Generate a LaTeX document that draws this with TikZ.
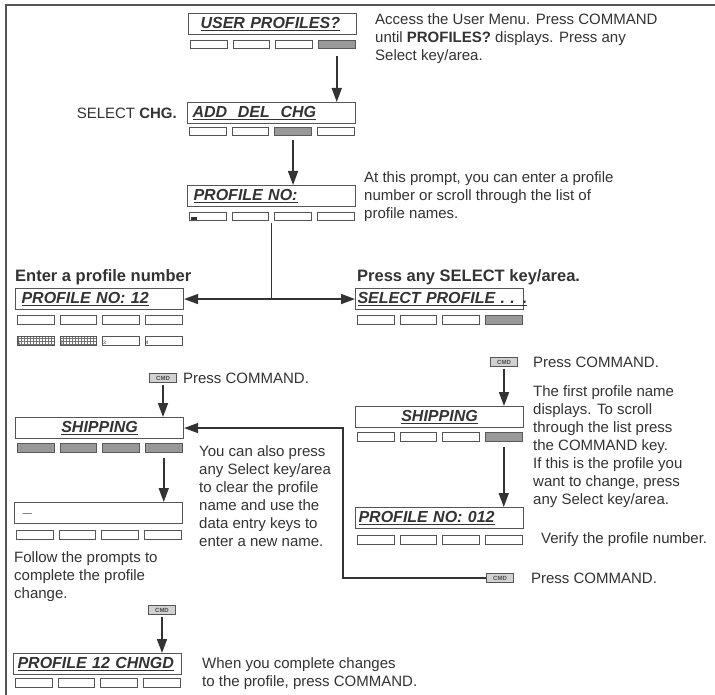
\documentclass[tikz,border=0pt]{standalone}
\usepackage{fontspec}
\setmainfont{Liberation Sans}
\usetikzlibrary{arrows.meta,patterns,calc}
\definecolor{ink}{HTML}{333333}
\definecolor{edge}{HTML}{555555}
\tikzset{
 disp/.style={draw=edge, line width=1.1pt, fill=white, minimum width=168pt, minimum height=21pt,
   text width=168pt, align=left, anchor=north west, inner sep=0pt, text=ink,
   font=\fontsize{16}{18}\selectfont\bfseries\itshape},
 key/.style={draw=edge, line width=1pt, fill=white, minimum width=36.5pt, minimum height=8.5pt,
   inner sep=0pt, anchor=north west},
 shaded/.style={fill=black!40, draw=black!65},
 numkey/.style={pattern=grid, pattern color=black!55},
 cmdkey/.style={draw=edge, line width=0.8pt, minimum width=27pt, minimum height=8.5pt, inner sep=0pt,
   fill=black!18, font=\fontsize{6}{6}\selectfont\bfseries, text=black!70},
 digit/.style={font=\fontsize{5}{5}\selectfont, text=ink, inner sep=0.5pt, anchor=south west},
 body/.style={font=\fontsize{15}{18}\selectfont, text=ink, inner sep=0pt, align=left, anchor=north west},
 head/.style={font=\fontsize{16.5}{18}\selectfont\bfseries, text=ink, inner sep=0pt, anchor=base west},
 arr/.style={draw=ink, line width=1.6pt, -{Triangle[length=14pt,width=10pt]}},
 thinline/.style={draw=ink, line width=1.1pt},
}
\newcommand\keysrow[7]{%
 \node[key,#4] (#1-1) at (#2+2,#3) {};
 \node[key,#5] (#1-2) at (#2+44.7,#3) {};
 \node[key,#6] (#1-3) at (#2+87.3,#3) {};
 \node[key,#7] (#1-4) at (#2+130,#3) {};
}
\begin{document}
\begin{tikzpicture}[x=1pt,y=-1pt]
\useasboundingbox (0,0) rectangle (715,695);
\fill[white] (0,0) rectangle (715,695);
% frame
\draw[edge, line width=1.5pt] (6,695) -- (6,5) -- (715,5);

% displays
\node[disp] (d1) at (188,13) {\hspace*{12pt}\underline{USER PROFILES?}};
\keysrow{d1k}{188}{40}{}{}{}{shaded}
\node[disp] (d2) at (187,102) {\hspace*{5pt}\underline{ADD\ \ DEL\ \ CHG}};
\keysrow{d2k}{187}{127}{}{}{shaded}{}
\node[disp] (d3) at (187,185) {\hspace*{6pt}\underline{PROFILE NO:}};
\keysrow{d3k}{187}{212}{}{}{}{}
\fill[ink] ([xshift=1.5pt,yshift=1.5pt]d3k-1.south west) rectangle ++(6,-3);
\node[disp] (d4) at (15,288) {\hspace*{6pt}\underline{PROFILE NO: 12}};
\keysrow{d4k}{15}{315}{}{}{}{}
\keysrow{d4r}{15}{336}{numkey}{numkey}{}{}
\node[digit] (n1) at (d4r-1.south west) {1};
\node[digit] (n2) at (d4r-2.south west) {2};
\node[digit] (n3) at (d4r-3.south west) {3};
\node[digit] (n4) at (d4r-4.south west) {4};
\node[disp] (d5) at (355,288) {\hspace*{2pt}\underline{SELECT PROFILE . . .}};
\keysrow{d5k}{355}{315}{}{}{}{shaded}
\node[disp, align=center] (d6) at (15,417) {\underline{SHIPPING}};
\keysrow{d6k}{15}{443}{shaded}{shaded}{shaded}{shaded}
\node[disp, align=center] (d7) at (355,406) {\underline{SHIPPING}};
\keysrow{d7k}{355}{432}{}{}{}{shaded}
\node[disp] (d8) at (14,502) {\hspace*{9pt}\_};
\keysrow{d8k}{14}{530}{}{}{}{}
\node[disp] (d9) at (355,507) {\hspace*{3pt}\underline{PROFILE NO: 012}};
\keysrow{d9k}{355}{535}{}{}{}{}
\node[disp] (d10) at (13,653) {\hspace*{4pt}\underline{PROFILE 12 CHNGD}};
\keysrow{d10k}{13}{678}{}{}{}{}

% command icons
\node[cmdkey] (cmd1) at (163,378) {CMD};
\node[cmdkey] (cmd2) at (162,610) {CMD};
\node[cmdkey] (cmd3) at (504,362) {CMD};
\node[cmdkey] (cmd4) at (500,578) {CMD};

% connectors
\draw[arr] ([yshift=-7pt]d1k-4.south) -- (d1k-4.south |- d2.north);
\draw[arr] ([yshift=-4pt]d2k-3.south) -- (d2k-3.south |- d3.north);
\coordinate (j) at (d3.south |- d4.east);
\draw[thinline] ([yshift=-16pt]d3.south) -- (j);
\draw[arr] (j) -- (d4.east);
\draw[arr] (j) -- (d5.west);
\draw[arr] ([yshift=-2pt]cmd1.south) -- (cmd1.south |- d6.north);
\draw[arr] ([yshift=-5pt]d6k-4.south) -- (d6k-4.south |- d8.north);
\draw[arr] ([yshift=-2pt]cmd2.south) -- (cmd2.south |- d10.north);
\draw[arr] ([yshift=-2pt]cmd3.south) -- (cmd3.south |- d7.north);
\draw[arr] ([yshift=-5pt]d7k-4.south) -- (d7k-4.south |- d9.north);
\coordinate (lp) at (343,578);
\draw[arr, line width=1.2pt] (cmd4.west) -- (lp) |- (d6.east);

% texts
\node[body] (t1) at (375,13) {Access the User Menu. Press COMMAND\\until \textbf{PROFILES?} displays. Press any\\Select key/area.};
\node[body, anchor=east] (t2) at ([xshift=-10pt]d2.west) {SELECT \textbf{CHG.}};
\node[body] (t3) at (364,171) {At this prompt, you can enter a profile\\number or scroll through the list of\\profile names.};
\node[head] (t4) at (15,281) {Enter a profile number};
\node[head] (t5) at (357,281) {Press any SELECT key/area.};
\node[body, anchor=west] (t6) at ([xshift=6pt]cmd1.east) {Press COMMAND.};
\node[body, anchor=west] (t7) at ([xshift=15pt]cmd3.east) {Press COMMAND.};
\node[body] (t8) at (533,385) {The first profile name\\displays. To scroll\\through the list press\\the COMMAND key.\\If this is the profile you\\want to change, press\\any Select key/area.};
\node[body] (t9) at (199,445) {You can also press\\any Select key/area\\to clear the profile\\name and use the\\data entry keys to\\enter a new name.};
\node[body, anchor=west] (t10) at (541,540) {Verify the profile number.};
\node[body, anchor=west] (t11) at ([xshift=17pt]cmd4.east) {Press COMMAND.};
\node[body] (t12) at (14,551) {Follow the prompts to\\complete the profile\\change.};
\node[body] (t13) at (202,657) {When you complete changes\\to the profile, press COMMAND.};
\end{tikzpicture}
\end{document}
